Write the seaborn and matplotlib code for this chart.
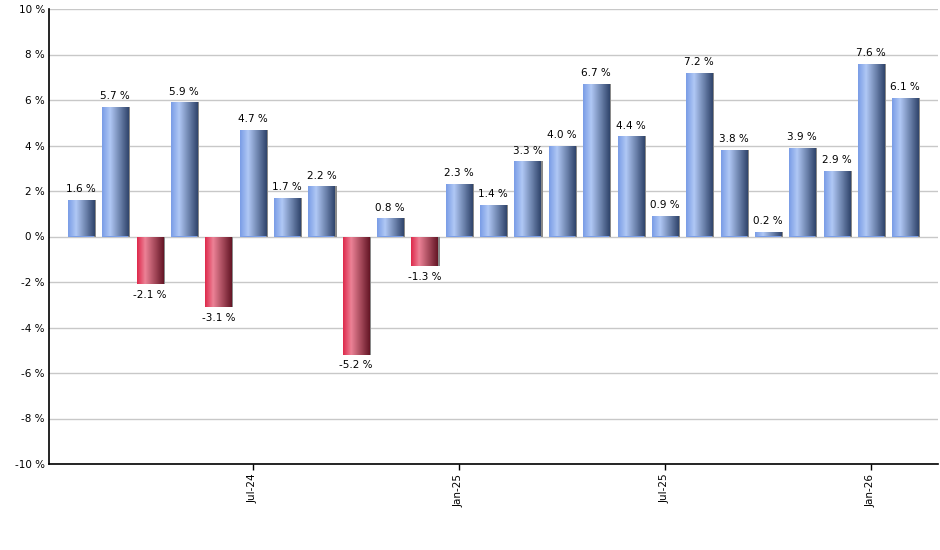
import numpy as np
import pandas as pd
import matplotlib
matplotlib.use('Agg')
import matplotlib.pyplot as plt
from matplotlib.colors import LinearSegmentedColormap
import seaborn as sns

months = pd.date_range('2024-02-01', periods=25, freq='MS')
returns = [1.6, 5.7, -2.1, 5.9, -3.1, 4.7, 1.7, 2.2, -5.2, 0.8, -1.3, 2.3, 1.4,
           3.3, 4.0, 6.7, 4.4, 0.9, 7.2, 3.8, 0.2, 3.9, 2.9, 7.6, 6.1]
tick_months = ['Jul-24', 'Jan-25', 'Jul-25', 'Jan-26']

df = pd.DataFrame({'month': months.strftime('%b-%y'), 'ret': returns})
df['sign'] = np.where(df['ret'] >= 0, 'pos', 'neg')

sns.set_style('white')
plt.rcParams['font.family'] = ['DejaVu Sans']
plt.rcParams['text.color'] = 'black'
plt.rcParams['xtick.color'] = 'black'
plt.rcParams['ytick.color'] = 'black'

fig = plt.figure(figsize=(9.4, 5.5), dpi=100)
ax = fig.add_axes([49 / 940, 1 - 464 / 550, 889 / 940, 455 / 550])

sns.barplot(data=df, x='month', y='ret', hue='sign', dodge=False, legend=False,
            palette={'pos': '#7b9fe8', 'neg': '#e0304f'}, width=0.76,
            saturation=1, ax=ax, zorder=2)

blue = LinearSegmentedColormap.from_list('b', [(0, '#7a9de6'), (0.3, '#b0c8f5'), (1, '#30456c')])
red = LinearSegmentedColormap.from_list('r', [(0, '#de2a4c'), (0.3, '#ec8296'), (1, '#651626')])
grad = np.linspace(0, 1, 64).reshape(1, -1)

bars = sorted([p for p in ax.patches if np.isfinite(p.get_height()) and p.get_height() != 0],
              key=lambda p: p.get_x())

for patch, val in zip(bars, df['ret']):
    x0, y0 = patch.get_x(), patch.get_y()
    w, h = patch.get_width(), patch.get_height()
    # shadow on the right edge
    ax.bar(x0 + w, h, width=0.06, bottom=y0, align='edge',
           color='#8a8a8a', zorder=1.5, linewidth=0)
    img = ax.imshow(grad, cmap=blue if val >= 0 else red, aspect='auto',
                    extent=[x0, x0 + w, y0, y0 + h], zorder=2.5)
    img.set_clip_path(patch)
    patch.set_edgecolor('none')
    cx = x0 + w / 2
    if val >= 0:
        ax.text(cx, val + 0.25, f'{val:.1f} %', ha='center', va='bottom', fontsize=7.5, zorder=4)
    else:
        ax.text(cx, val - 0.25, f'{val:.1f} %', ha='center', va='top', fontsize=7.5, zorder=4)

ax.set_xlim(-0.93, 24.95)
ax.set_ylim(-10, 10)
ax.set_yticks(range(-10, 11, 2))
ax.set_yticklabels([f'{v} %' for v in range(-10, 11, 2)], fontsize=7.5)
ax.yaxis.grid(True, color='#c8c8c8', linewidth=1, zorder=0)
ax.set_axisbelow(True)

pos = [list(df['month']).index(m) for m in tick_months]
ax.set_xticks(pos)
ax.set_xticklabels(tick_months, rotation=90, fontsize=7.5)
ax.tick_params(axis='x', length=4, width=1, color='black', direction='out', pad=3, bottom=True)
ax.tick_params(axis='y', length=0, pad=3)
ax.set_xlabel('')
ax.set_ylabel('')

for s in ['top', 'right']:
    ax.spines[s].set_visible(False)
for s in ['left', 'bottom']:
    ax.spines[s].set_color('black')
    ax.spines[s].set_linewidth(1.2)

fig.savefig('out.png', dpi=100)
